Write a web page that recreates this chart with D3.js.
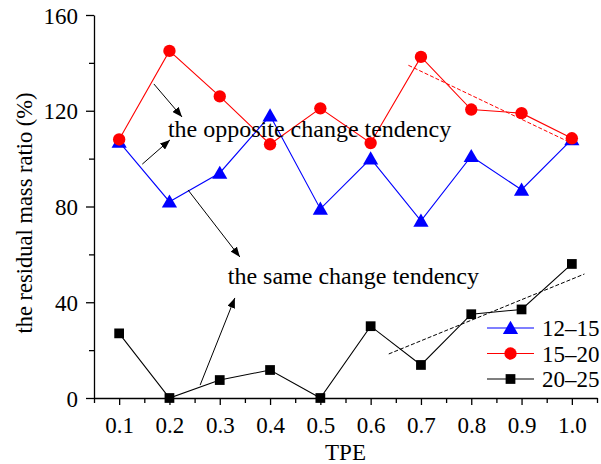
<!DOCTYPE html>
<html>
<head>
<meta charset="utf-8">
<script src="https://cdn.jsdelivr.net/npm/d3@7"></script>
<style>
	body { margin: 0; background: #fff; }
	svg text { font-family: "Liberation Serif", "Times New Roman", serif; fill: #000; }
	.axis path, .axis line { stroke: #000; stroke-width: 1.3; }
	.axis text { font-size: 23px; font-family: "Liberation Serif", "Times New Roman", serif; }
</style>
</head>
<body>
<div id="graphic"></div>
<script>
// Data
var TPE = [0.1, 0.2, 0.3, 0.4, 0.5, 0.6, 0.7, 0.8, 0.9, 1.0];
var SERIES_NAMES = ['12\u201315', '15\u201320', '20\u201325'];
var S12_15 = [107, 82, 94, 118, 79, 100, 74, 101, 87, 108];
var S15_20 = [108, 145, 126, 106, 121, 106.5, 142.5, 120.5, 119, 108.5];
var S20_25 = [27, 0, 7.5, 11.7, 0, 30, 13.8, 35, 37, 56];
var Y_TICKS = [0, 40, 80, 120, 160];
var X_TICKS = [0.1, 0.2, 0.3, 0.4, 0.5, 0.6, 0.7, 0.8, 0.9, 1.0];

// trend lines (dashed), in data units
var TRENDS = [
	{ 'color': '#ff0000', 'path': [[0.675, 139], [1.007, 105.7]] },
	{ 'color': '#000000', 'path': [[0.636, 18.4], [1.025, 51.8]] }
];

// annotation arrows, in data units
var ARROWS = [
	[[0.169, 131.2], [0.225, 117.4]],
	[[0.146, 97.7], [0.201, 107.8]],
	[[0.237, 86.9], [0.340, 58.9]],
	[[0.261, 5.4], [0.330, 41.8]]
];

var LABELS = [
	{ 'text': 'the opposite change tendency', 'x': 0.197, 'y': 109.2 },
	{ 'text': 'the same change tendency', 'x': 0.316, 'y': 47.6 }
];

var margins = { top: 15, right: 4, bottom: 66, left: 94 };
var width = 601, height = 464;
var chartWidth = width - margins.left - margins.right;
var chartHeight = height - margins.top - margins.bottom;

var svg = d3.select('#graphic').append('svg')
	.attr('width', width)
	.attr('height', height);

var chart = svg.append('g')
	.attr('transform', 'translate(' + margins.left + ',' + margins.top + ')');

var xScale = d3.scaleLinear().domain([0.05, 1.05]).range([0, chartWidth]);
var yScale = d3.scaleLinear().domain([0, 160]).range([chartHeight, 0]);

// minor ticks
chart.append('g')
	.attr('class', 'axis')
	.attr('transform', 'translate(0,' + chartHeight + ')')
	.call(d3.axisBottom(xScale).tickValues(d3.range(0.05, 1.06, 0.1)).tickSize(5).tickFormat(''))
	.select('.domain').remove();

chart.append('g')
	.attr('class', 'axis')
	.call(d3.axisLeft(yScale).tickValues([20, 60, 100, 140]).tickSize(5).tickFormat(''))
	.select('.domain').remove();

var xAxis = chart.append('g')
	.attr('class', 'x axis')
	.attr('transform', 'translate(0,' + chartHeight + ')')
	.call(d3.axisBottom(xScale).tickValues(X_TICKS).tickSize(7).tickSizeOuter(0).tickPadding(12)
		.tickFormat(d3.format('.1f')));

var yAxis = chart.append('g')
	.attr('class', 'y axis')
	.call(d3.axisLeft(yScale).tickValues(Y_TICKS).tickSize(8).tickSizeOuter(0).tickPadding(8));

yAxis.selectAll('text').attr('dy', '0.35em');

// axis titles
svg.append('text')
	.attr('x', margins.left + xScale(0.55))
	.attr('y', 460)
	.attr('text-anchor', 'middle')
	.style('font-size', '23px')
	.text('TPE');

svg.append('text')
	.attr('transform', 'translate(32,213) rotate(-90)')
	.attr('text-anchor', 'middle')
	.style('font-size', '22.5px')
	.text('the residual mass ratio (%)');

// markers
chart.append('defs').append('marker')
	.attr('id', 'arrowhead')
	.attr('viewBox', '0 0 10 8')
	.attr('markerWidth', 10)
	.attr('markerHeight', 8)
	.attr('markerUnits', 'userSpaceOnUse')
	.attr('refX', 10)
	.attr('refY', 4)
	.attr('orient', 'auto')
	.append('path')
	.attr('d', 'M0,0 L10,4 L0,8 Z')
	.attr('fill', '#000');

var line = d3.line()
	.x(function(d) { return xScale(d[0]); })
	.y(function(d) { return yScale(d[1]); });

// dashed trends
chart.append('g').selectAll('path')
	.data(TRENDS)
	.enter().append('path')
	.attr('d', function(d) { return line(d.path); })
	.attr('fill', 'none')
	.attr('stroke', function(d) { return d.color; })
	.attr('stroke-width', 1)
	.attr('stroke-dasharray', '4,2');

var series = [
	{ name: SERIES_NAMES[0], values: S12_15, color: '#0000ff', symbol: d3.symbolTriangle, size: 100 },
	{ name: SERIES_NAMES[1], values: S15_20, color: '#ff0000', symbol: d3.symbolCircle, size: 120 },
	{ name: SERIES_NAMES[2], values: S20_25, color: '#000000', symbol: d3.symbolSquare, size: 95 }
];

series.forEach(function(s) {
	var pts = TPE.map(function(t, i) { return [t, s.values[i]]; });
	chart.append('path')
		.attr('d', line(pts))
		.attr('fill', 'none')
		.attr('stroke', s.color)
		.attr('stroke-width', 1.1);
});

series.forEach(function(s) {
	var pts = TPE.map(function(t, i) { return [t, s.values[i]]; });
	chart.append('g').selectAll('path')
		.data(pts)
		.enter().append('path')
		.attr('transform', function(d) {
			var dy = s.symbol === d3.symbolTriangle ? 1.5 : 0;
			return 'translate(' + xScale(d[0]) + ',' + (yScale(d[1]) + dy) + ')';
		})
		.attr('d', d3.symbol().type(s.symbol).size(s.size))
		.attr('fill', s.color);
});

// arrows
chart.append('g').selectAll('path')
	.data(ARROWS)
	.enter().append('path')
	.attr('d', function(d) { return line(d); })
	.attr('stroke', '#000')
	.attr('stroke-width', 1)
	.attr('marker-end', 'url(#arrowhead)');

chart.append('g').selectAll('text')
	.data(LABELS)
	.enter().append('text')
	.attr('x', function(d) { return xScale(d.x); })
	.attr('y', function(d) { return yScale(d.y); })
	.style('font-size', '24px')
	.text(function(d) { return d.text; });

// legend
var legend = svg.append('g')
	.attr('transform', 'translate(487,328)');

var rows = legend.selectAll('g')
	.data(series)
	.enter().append('g')
	.attr('transform', function(d, i) { return 'translate(0,' + (i * 25.5) + ')'; });

rows.append('line')
	.attr('x1', 0).attr('x2', 47)
	.attr('stroke', function(d) { return d.color; })
	.attr('stroke-width', 1.1);

rows.append('path')
	.attr('transform', function(d) { return 'translate(23.5,' + (d.symbol === d3.symbolTriangle ? 1.5 : 0) + ')'; })
	.attr('d', function(d) { return d3.symbol().type(d.symbol).size(d.size)(); })
	.attr('fill', function(d) { return d.color; });

rows.append('text')
	.attr('x', 55)
	.attr('dy', '0.35em')
	.style('font-size', '23px')
	.text(function(d) { return d.name; });
</script>
</body>
</html>
